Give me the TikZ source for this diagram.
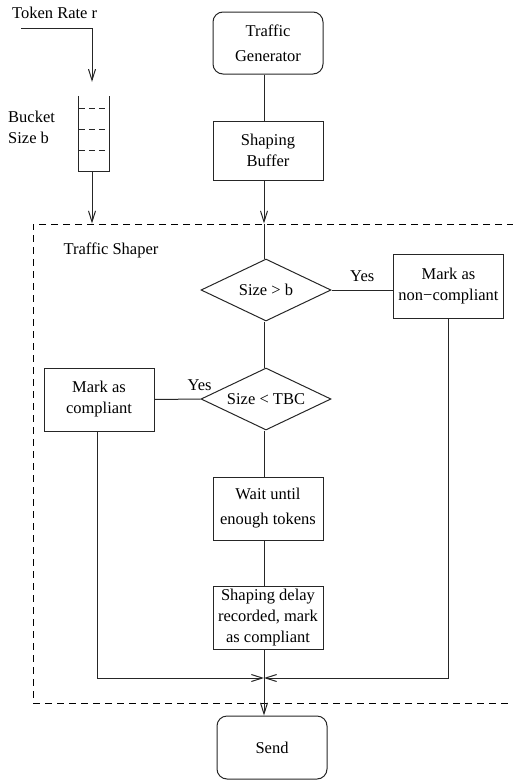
\documentclass[tikz,border=0pt]{standalone}
\usepackage{fontspec}
\setmainfont{Liberation Serif}
\usetikzlibrary{arrows.meta, positioning, shapes.geometric}

\begin{document}
\begin{tikzpicture}[x=1pt, y=-1pt, font=\fontsize{16.5}{21}\selectfont]

\tikzset{box/.style = {shape=rectangle, draw=black!85, line width=1pt, minimum width=110pt, minimum height=62pt, align=center, inner sep=2pt}}
\tikzset{rbox/.style = {box, rounded corners=10pt}}
\tikzset{test/.style = {shape=diamond, draw=black!85, line width=1pt, aspect=2.1, minimum width=130pt, minimum height=62pt, inner sep=0pt}}
\tikzset{edge/.style = {draw=black!85, line width=1pt}}
\tikzset{arr/.style = {edge, -{Straight Barb[length=11pt, width=7pt, line width=1pt]}}}
\tikzset{shaperbox/.style = {draw, line width=1pt, dash pattern=on 7pt off 5pt, minimum width=487pt, minimum height=479pt}}

\useasboundingbox (0,0) rectangle (513,782);
\clip (0,0) rectangle (513,782);

% vertices
\coordinate (col) at (264,0);
\coordinate (bcol) at (92,0);
\node[shaperbox] (shaper) at (276.5,463.5) {};
\node[anchor=west] (shaperlbl) at (60,250) {Traffic Shaper};

\node[anchor=west, inner sep=0pt] (rate) at (12,13) {Token Rate r};
\coordinate (ratein) at (21,28);
\node[minimum width=30pt, minimum height=75pt, inner sep=0pt] (bucket) at (94,133.5) {};
\node[anchor=west, align=left, inner sep=0pt] (bucketlbl) at (8,127) {Bucket\\Size b};

\node[rbox] (gen) at (268,43) {Traffic\\[4pt]Generator};
\node[box, minimum height=59pt] (buf) at (268,150.5) {Shaping\\Buffer};
\node[test] (big) at (266,290) {Size > b};
\node[box, minimum height=64pt] (noncomp) at (448.5,286) {Mark as\\non−compliant};
\node[test] (small) at (266,399) {Size < TBC};
\node[box, minimum height=63pt] (comp) at (99,399.5) {Mark as\\compliant};
\node[box, minimum height=63pt] (wait) at (268,508.5) {Wait until\\[4pt]enough tokens};
\node[box, minimum height=63pt] (delay) at (268,617.5) {Shaping delay\\recorded, mark\\as compliant};
\node[rbox, minimum height=63pt] (send) at (272,747.5) {Send};
\coordinate (join) at (264,678);

% bucket
\draw[edge] (bucket.north west) -- (bucket.south west) -- (bucket.south east) -- (bucket.north east);
\foreach \y in {108,129,150}
  \draw[edge, dash pattern=on 6pt off 4pt] (bucket.west |- 0,\y) -- (bucket.east |- 0,\y);

%edges
\draw[arr] (ratein) -| ([yshift=14pt]bucket.north -| bcol);
\draw[arr] (bucket.south -| bcol) -- (shaper.north -| bcol);
\draw[edge] (gen.south -| col) -- (buf.north -| col);
\draw[arr] (buf.south -| col) -- (shaper.north -| col);
\draw[edge] (shaper.north -| col) -- (big.north -| col);
\draw[edge] (big.east) -- (big.east -| noncomp.west) node [midway, above=5pt] {Yes};
\draw[edge] (big.south -| col) -- (small.north -| col);
\draw[edge] (small.west) -- (comp.east) node [pos=0.02, above=5pt] {Yes};
\draw[edge] (small.south -| col) -- (wait.north -| col);
\draw[edge] (wait.south -| col) -- (delay.north -| col);
\draw[arr] (comp.south -| 97,0) |- (join);
\draw[arr] (noncomp.south) |- (join);
\draw[arr] (delay.south -| col) -- (send.north -| col);
\end{tikzpicture}
\end{document}
